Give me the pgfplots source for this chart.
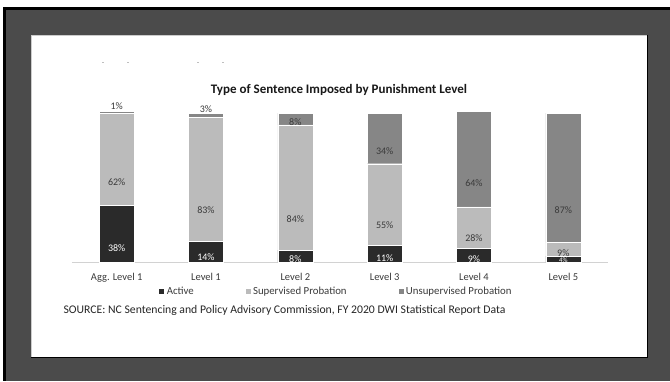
\documentclass[border=0pt]{standalone}
\usepackage{pgfplots}
\pgfplotsset{compat=1.18}
\usepackage{fontspec}
\setmainfont{Carlito}
\definecolor{frame}{HTML}{4B4B4B}
\definecolor{act}{HTML}{2A2A2A}
\definecolor{sup}{HTML}{BBBBBB}
\definecolor{uns}{HTML}{868686}
\definecolor{txt}{HTML}{3A3A3A}
\begin{document}
\begin{tikzpicture}[x=1pt,y=1pt]
\useasboundingbox (0,0) rectangle (670,381);
\fill[white] (0,0) rectangle (670,381);
\fill[black] (3,0) rectangle (670,374);
\fill[frame] (6,0) rectangle (670,371);
\fill[black] (31,23) rectangle (647.5,346);
\fill[white] (31,23.8) rectangle (646.7,346);
\draw[gray!40, line width=0.5pt] (31,23.8) -- (31,346) -- (646.7,346);
\foreach \xx in {103,128,198,223} {\fill[gray!50] (\xx-0.8,318.6) rectangle (\xx+0.8,319.2);}
\begin{axis}[
  name=ax,
  at={(72pt,119pt)}, anchor=south west,
  width=536pt, height=149pt, scale only axis,
  xmin=-0.5, xmax=5.5, ymin=0, ymax=100,
  clip=false,
  ybar stacked, bar width=35pt,
  axis x line*=bottom, axis y line=none,
  x axis line style={draw=gray!35, line width=0.8pt},
  xtick={0,1,2,3,4,5},
  xticklabels={Agg. Level 1,Level 1,Level 2,Level 3,Level 4,Level 5},
  major tick length=0pt,
  xticklabel style={font=\fontsize{10.5}{12}\selectfont, text=txt, yshift=-8pt},
  /pgf/number format/assume math mode=true,
  nodes near coords={\pgfmathprintnumber{\rawy}\%},
  visualization depends on=rawy\as\rawy,
  every node near coord/.append style={font=\fontsize{10}{11}\selectfont, anchor=center},
  legend columns=3,
  legend style={at={(0.4925,-0.195)}, anchor=center, draw=none, fill=none,
    font=\fontsize{10.8}{12}\selectfont, text=txt,
    /tikz/every even column/.append style={column sep=49pt}},
  legend image code/.code={\fill[#1] (0pt,-3pt) rectangle (6pt,3pt);},
]
\addplot[fill=act, draw=white, line width=0.3pt,
  every node near coord/.append style={text=white, yshift={-0.3725*\rawy},
    scale={ifthenelse(\rawy<5,0.7,1)}, inner sep={ifthenelse(\rawy<5,0,2)}}]
  coordinates {(0,38) (1,14) (2,8) (3,11) (4,9) (5,4)};
\addlegendentry{Active}
\addplot[fill=sup, draw=white, line width=0.3pt,
  every node near coord/.append style={text=txt, yshift={-0.3725*\rawy}}]
  coordinates {(0,62) (1,83) (2,84) (3,55) (4,28) (5,9)};
\addlegendentry{Supervised Probation}
\addplot[fill=uns, draw=white, line width=0.3pt,
  every node near coord/.append style={text=txt, yshift={ifthenelse(\rawy<5,6,-0.3725*\rawy)}}]
  coordinates {(0,1) (1,3) (2,8) (3,34) (4,64) (5,87)};
\addlegendentry{Unsupervised Probation}
\end{axis}
\node[font=\bfseries\fontsize{13}{15}\selectfont, text=black!90] at (339,291) {Type of Sentence Imposed by Punishment Level};
\node[anchor=west, font=\fontsize{11.7}{14}\selectfont, text=black!85] at (60,71) {SOURCE: NC Sentencing and Policy Advisory Commission, FY 2020 DWI Statistical Report Data};
\end{tikzpicture}
\end{document}
